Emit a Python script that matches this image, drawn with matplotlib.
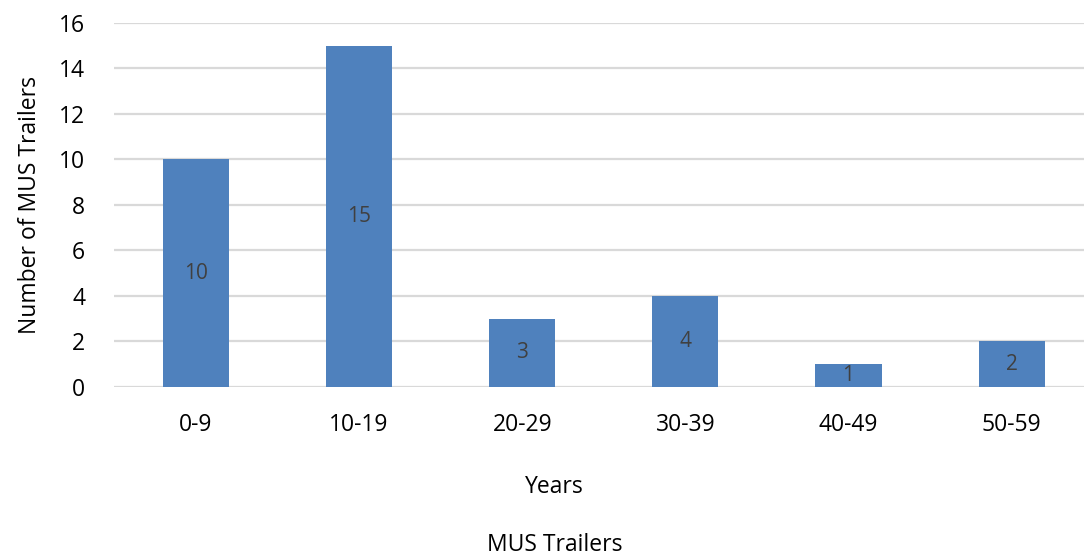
import matplotlib.pyplot as plt
import numpy as np

plt.rcParams['font.family'] = ['Open Sans', 'DejaVu Sans']

age_groups = ['0-9', '10-19', '20-29', '30-39', '40-49', '50-59']
trailers = [10, 15, 3, 4, 1, 2]

fig = plt.figure(figsize=(10.84, 5.58), dpi=100)
ax = fig.add_axes([0.1055, 0.3065, 0.903, 0.6523])

x = np.arange(len(age_groups))
bars = ax.bar(x, trailers, width=0.405, color='#4f81bd', zorder=3)

# value labels sit in the middle of each bar
for xi, v in zip(x, trailers):
    ax.text(xi, v / 2, str(v), ha='center', va='center',
            fontsize=15, color='#404040', zorder=4)

ax.set_xlim(-0.5, len(age_groups) - 0.5)
ax.set_ylim(0, 16)
ax.set_yticks(range(0, 17, 2))
ax.set_xticks(x)
ax.set_xticklabels(age_groups)
ax.tick_params(axis='both', length=0, labelsize=16.5, colors='black')
ax.tick_params(axis='x', pad=19)
ax.tick_params(axis='y', pad=21)

ax.grid(axis='y', color='#d9d9d9', linewidth=1.6, zorder=0)
for s in ax.spines.values():
    s.set_visible(False)

ax.set_ylabel('Number of MUS Trailers', fontsize=16.5, labelpad=12)
fig.text(0.5115, 0.127, 'Years', ha='center', va='center', fontsize=16.5)
fig.text(0.5115, 0.023, 'MUS Trailers', ha='center', va='center', fontsize=16.5)

fig.savefig('out.png', dpi=100, facecolor='white')
